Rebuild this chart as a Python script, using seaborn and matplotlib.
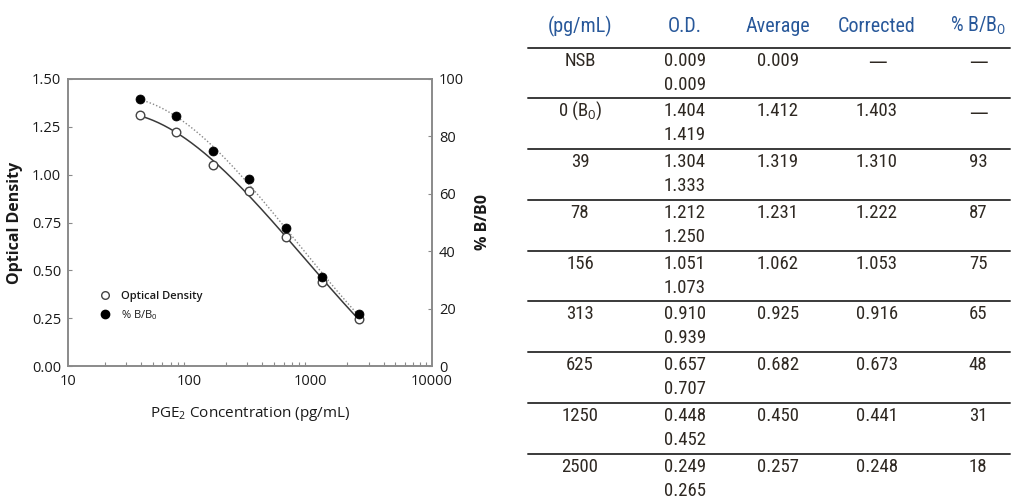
import numpy as np
import pandas as pd
import matplotlib
matplotlib.use("Agg")
import matplotlib.pyplot as plt
from matplotlib.lines import Line2D
from matplotlib import font_manager as fm
import seaborn as sns

# Standard curve data (PGE2 EIA)
conc = [39, 78, 156, 313, 625, 1250, 2500]
od_corrected = [1.310, 1.222, 1.053, 0.916, 0.673, 0.441, 0.248]
pct_bb0 = [93, 87, 75, 65, 48, 31, 18]

# Table contents
DASH = "\u2014"
tbl_headers = ["(pg/mL)", "O.D.", "Average", "Corrected", "% B/B$_0$"]
tbl_conc = ["NSB", "0 (B$_0$)", "39", "78", "156", "313", "625", "1250", "2500"]
tbl_od1 = ["0.009", "1.404", "1.304", "1.212", "1.051", "0.910", "0.657", "0.448", "0.249"]
tbl_od2 = ["0.009", "1.419", "1.333", "1.250", "1.073", "0.939", "0.707", "0.452", "0.265"]
tbl_avg = ["0.009", "1.412", "1.319", "1.231", "1.062", "0.925", "0.682", "0.450", "0.257"]
tbl_corr = [DASH, "1.403", "1.310", "1.222", "1.053", "0.916", "0.673", "0.441", "0.248"]
tbl_bb0 = [DASH, DASH, "93", "87", "75", "65", "48", "31", "18"]

sns.set_theme(style="white")
plt.rcParams["font.family"] = ["Open Sans", "DejaVu Sans"]
plt.rcParams["mathtext.fontset"] = "custom"
plt.rcParams["mathtext.rm"] = "Open Sans"
plt.rcParams["mathtext.it"] = "Open Sans"
plt.rcParams["mathtext.bf"] = "Open Sans:bold"

# Pick a narrow face for the table if one is installed
names = {f.name for f in fm.fontManager.ttflist}
narrow_family = None
for cand in ["Liberation Sans Narrow", "Roboto Condensed", "Open Sans Condensed",
             "Noto Sans Condensed", "DejaVu Sans Condensed"]:
    if cand in names:
        narrow_family = cand
        break
if narrow_family is None:
    narrow_fp = fm.FontProperties(family="DejaVu Sans", stretch="condensed")
else:
    narrow_fp = fm.FontProperties(family=narrow_family)

W, H = 1016, 503
fig = plt.figure(figsize=(W / 100, H / 100), dpi=100)
fig.patch.set_facecolor("white")

def fx(px):
    return px / W

def fy(py):
    return 1 - py / H

ax = fig.add_axes([fx(68), fy(366), fx(432) - fx(68), fy(79) - fy(366)])
ax2 = ax.twinx()

df = pd.DataFrame({"conc": conc, "od": od_corrected, "bb0": pct_bb0})

# Smooth fitted curves in log-concentration space
lx = np.log10(df["conc"].to_numpy())
xs = np.logspace(lx.min(), lx.max(), 200)
od_fit = np.polyval(np.polyfit(lx, df["od"], 3), np.log10(xs))
bb_fit = np.polyval(np.polyfit(lx, df["bb0"], 3), np.log10(xs))
fit_df = pd.DataFrame({"conc": xs, "od": od_fit, "bb0": bb_fit})

sns.lineplot(data=fit_df, x="conc", y="od", ax=ax, color="#3a3a3a", lw=1.1)
sns.lineplot(data=fit_df, x="conc", y="bb0", ax=ax2, color="#888888", lw=1.0,
             linestyle=(0, (1, 1.5)))
sns.scatterplot(data=df, x="conc", y="od", ax=ax, marker="o", s=38,
                facecolor="white", edgecolor="#444444", linewidth=1.0, zorder=4)
sns.scatterplot(data=df, x="conc", y="bb0", ax=ax2, marker="o", s=42,
                color="black", edgecolor="black", linewidth=0.5, zorder=5)

ax.set_xscale("log")
ax.set_xlim(10, 10000)
ax.set_ylim(0, 1.5)
ax2.set_ylim(0, 100)
ax.set_yticks([0, 0.25, 0.5, 0.75, 1.0, 1.25, 1.5])
ax.set_yticklabels([f"{v:.2f}" for v in [0, 0.25, 0.5, 0.75, 1.0, 1.25, 1.5]])
ax2.set_yticks([0, 20, 40, 60, 80, 100])
ax.set_xticks([10, 100, 1000, 10000])
ax.set_xticklabels(["10", "100", "1000", "10000"])

for a in (ax, ax2):
    for s in a.spines.values():
        s.set_color("#8a8a8a")
        s.set_linewidth(1.2)
ax.tick_params(axis="both", which="major", direction="in", length=3, width=0.8,
               color="#8a8a8a", labelsize=10.5, labelcolor="#1a1a1a", pad=5)
ax.tick_params(axis="x", which="minor", direction="in", length=3, width=0.8,
               color="#8a8a8a", bottom=True)
ax.tick_params(axis="x", which="major", length=0, pad=6)
ax2.tick_params(axis="y", direction="in", length=3, width=0.8, color="#8a8a8a",
                labelsize=10.5, labelcolor="#1a1a1a", pad=5)

ax.set_xlabel("PGE$_2$ Concentration (pg/mL)", fontsize=11, color="#1a1a1a", labelpad=11)
ax.set_ylabel("Optical Density", fontsize=11.5, fontweight="bold", color="#1a1a1a", labelpad=6)
ax2.set_ylabel("% B/B0", fontsize=11.5, fontweight="bold", color="#1a1a1a", labelpad=8)

handles = [
    Line2D([], [], marker="o", ls="", markersize=5.5, markerfacecolor="white",
           markeredgecolor="#444444", markeredgewidth=1.0),
    Line2D([], [], marker="o", ls="", markersize=6, color="black"),
]
leg = ax.legend(handles, ["Optical Density", "% B/B$_0$"], loc="lower left",
                bbox_to_anchor=(0.06, 0.12), frameon=False, fontsize=8,
                handletextpad=0.9, labelspacing=0.55, handlelength=1.0)
for t in leg.get_texts():
    t.set_color("#1a1a1a")
leg.get_texts()[0].set_fontweight("semibold")

# Data table
hdr_color = "#28589a"
body_color = "#2e2822"
col_x = [580, 685, 778, 877, 978]
header_y = 26
lines_y = [48, 98, 149, 200, 251, 301, 352, 403, 454]

def cell(x, y, s, color, size):
    if s == DASH:
        # wide rule-style dash for empty cells
        fig.text(fx(x), fy(y + 2), s, ha="center", va="center", color=color,
                 fontsize=size, family=["DejaVu Sans"])
        return
    fp = narrow_fp.copy()
    fp.set_size(size)
    fig.text(fx(x), fy(y), s, ha="center", va="center", color=color,
             fontproperties=fp)

for x, h in zip(col_x, tbl_headers):
    cell(x, header_y, h, hdr_color, 14.5)

for y in lines_y:
    fig.add_artist(Line2D([fx(528), fx(1010)], [fy(y), fy(y)], color="#3a3a3a", lw=1.4))

for i in range(len(tbl_conc)):
    top = lines_y[i]
    y1, y2 = top + 13, top + 37
    row = [tbl_conc[i], tbl_od1[i], tbl_avg[i], tbl_corr[i], tbl_bb0[i]]
    for x, v in zip(col_x, row):
        cell(x, y1, v, body_color, 13.5)
    cell(col_x[1], y2, tbl_od2[i], body_color, 13.5)

fig.savefig("out.png", dpi=100, facecolor="white")
